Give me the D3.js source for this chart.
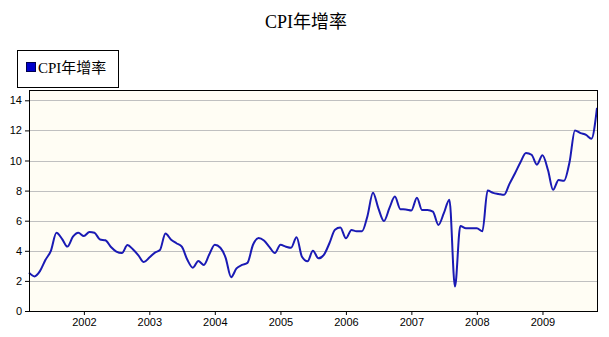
<!DOCTYPE html>
<html>
<head>
<meta charset="utf-8">
<script src="https://cdn.jsdelivr.net/npm/d3@7"></script>
<style>
  body { margin: 0; background: #fff; }
  text { font-family: "Liberation Sans", Arial, sans-serif; }
</style>
</head>
<body>
<svg id="chart" width="609" height="337"></svg>
<script>
// monthly values, Mar 2001 .. Nov 2009
var startMonth = "2001-03";
var cpiValues = [
  2.55, 2.3, 2.65, 3.4, 4.0, 5.2, 4.8, 4.28, 4.94, 5.2,
  4.98, 5.25, 5.2, 4.75, 4.7, 4.25, 3.95, 3.85, 4.38, 4.1, 3.7, 3.25,
  3.55, 3.88, 4.05, 5.15, 4.75, 4.5, 4.27, 3.4, 2.88, 3.32, 3.06, 3.75,
  4.4, 4.2, 3.55, 2.25, 2.83, 3.06, 3.2, 4.4, 4.85, 4.68, 4.25, 3.85,
  4.4, 4.27, 4.2, 4.9, 3.6, 3.3, 4.0, 3.5, 3.75, 4.5, 5.4, 5.55,
  4.83, 5.38, 5.3, 5.3, 6.3, 7.86, 6.82, 5.98, 6.85, 7.6, 6.76, 6.75,
  6.68, 7.53, 6.71, 6.71, 6.6, 5.72, 6.5, 7.4, 1.62, 5.65, 5.5, 5.5,
  5.5, 5.3, 8.0, 7.85, 7.78, 7.72, 8.45, 9.15, 9.9, 10.5, 10.38, 9.72,
  10.35, 9.35, 8.05, 8.7, 8.65, 9.9, 12.0, 11.82, 11.7, 11.45, 13.5
];
var yTicks = [0, 2, 4, 6, 8, 10, 12, 14];
var xTickYears = [2002, 2003, 2004, 2005, 2006, 2007, 2008, 2009];
var seriesName = "CPI年增率";

var parse = d3.timeParse("%Y-%m");
var t0 = parse(startMonth);
var data = cpiValues.map(function(v, i) {
  return { date: d3.timeMonth.offset(t0, i), value: v };
});

var svg = d3.select("#chart");
var plotL = 29, plotR = 597, plotT = 90, plotB = 311;

var x = d3.scaleTime()
  .domain(d3.extent(data, function(d) { return d.date; }))
  .range([plotL, plotR]);
var y = d3.scaleLinear()
  .domain([0, 14])
  .range([plotB, plotB - 14 * 15.05]);

// title
svg.append("text")
  .attr("x", 306).attr("y", 28)
  .attr("text-anchor", "middle")
  .style("font-family", "'Liberation Serif', 'Noto Sans CJK TC', serif")
  .style("font-size", "18px")
  .text(seriesName);

// legend
svg.append("rect")
  .attr("x", 17.5).attr("y", 50.5).attr("width", 101).attr("height", 37)
  .attr("fill", "#fff").attr("stroke", "#000");
svg.append("rect")
  .attr("x", 26.5).attr("y", 62.5).attr("width", 9).attr("height", 9)
  .attr("fill", "#0000cc").attr("stroke", "#000050");
svg.append("text")
  .attr("x", 38).attr("y", 73)
  .style("font-family", "'Liberation Serif', 'Noto Sans CJK TC', serif")
  .style("font-size", "15px")
  .text(seriesName);

// plot background
svg.append("rect")
  .attr("x", plotL).attr("y", plotT)
  .attr("width", plotR - plotL).attr("height", plotB - plotT)
  .attr("fill", "#fffdf4");

// grid
svg.append("g").selectAll("line")
  .data(yTicks.filter(function(d) { return d > 0; }))
  .join("line")
  .attr("x1", plotL).attr("x2", plotR)
  .attr("y1", function(d) { return Math.round(y(d)) + 0.5; })
  .attr("y2", function(d) { return Math.round(y(d)) + 0.5; })
  .attr("stroke", "#c0c0c0");

// axes
var yAxis = d3.axisLeft(y).tickValues(yTicks).tickSize(4).tickPadding(3);
var gy = svg.append("g").attr("transform", "translate(" + plotL + ",0)").call(yAxis);
gy.select(".domain").remove();
gy.selectAll("text").style("font-size", "11px").attr("fill", "#000")
  .style("font-family", "'Liberation Sans', Arial, sans-serif");

var xAxis = d3.axisBottom(x)
  .tickValues(xTickYears.map(function(yr) { return new Date(yr, 0, 1); }))
  .tickFormat(d3.timeFormat("%Y"))
  .tickSize(4).tickPadding(3);
var gx = svg.append("g").attr("transform", "translate(0," + plotB + ")").call(xAxis);
gx.select(".domain").remove();
gx.selectAll("text").style("font-size", "11px").attr("fill", "#000")
  .style("font-family", "'Liberation Sans', Arial, sans-serif");

// line
var line = d3.line()
  .x(function(d) { return x(d.date); })
  .y(function(d) { return y(d.value); })
  .curve(d3.curveMonotoneX);

svg.append("path")
  .datum(data)
  .attr("d", line)
  .attr("fill", "none")
  .attr("stroke", "#1a1ab4")
  .attr("stroke-width", 2);

// frame
svg.append("rect")
  .attr("x", plotL + 0.5).attr("y", plotT + 0.5)
  .attr("width", plotR - plotL).attr("height", plotB - plotT)
  .attr("fill", "none").attr("stroke", "#000");
</script>
</body>
</html>
